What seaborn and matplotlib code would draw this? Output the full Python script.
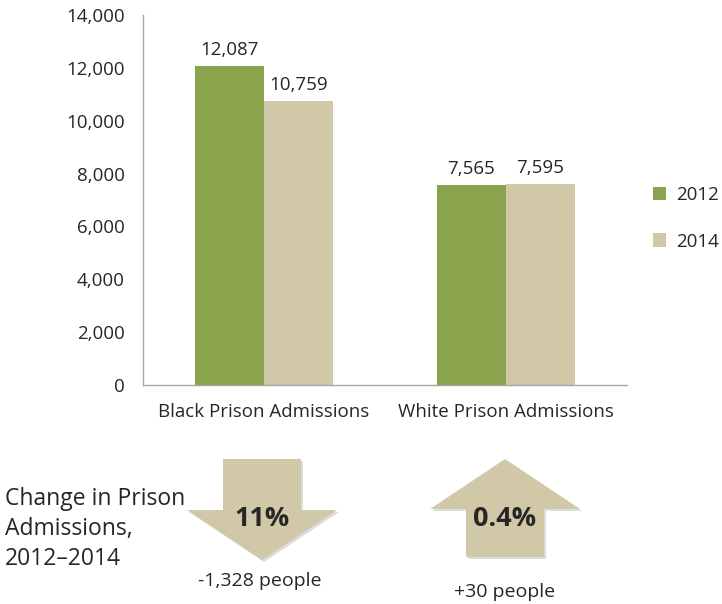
"""Prison admissions by race, 2012 vs 2014"""
import numpy as np
import pandas as pd
import matplotlib
matplotlib.use('Agg')
import matplotlib.pyplot as plt
from matplotlib.patches import Polygon
from matplotlib.ticker import FuncFormatter
import seaborn as sns

categories = ['Black Prison Admissions', 'White Prison Admissions']
years = ['2012', '2014']
admissions_2012 = [12087, 7565]
admissions_2014 = [10759, 7595]
pct_change = ['11%', '0.4%']
people_change = ['-1,328 people', '+30 people']

green = '#8AA34D'
tan = '#D0C8A6'

df = pd.DataFrame({
    'group': categories * 2,
    'year': [years[0]] * 2 + [years[1]] * 2,
    'admissions': admissions_2012 + admissions_2014,
})

sns.set_style('white')
plt.rcParams['font.family'] = ['Open Sans', 'DejaVu Sans']

fig = plt.figure(figsize=(7.22, 6.04), dpi=100)
ax = fig.add_axes([0.198, 0.3626, 0.67, 0.6126])

sns.barplot(data=df, x='group', y='admissions', hue='year',
            palette=[green, tan], saturation=1, width=0.57, linewidth=0, ax=ax)

for c in ax.containers:
    ax.bar_label(c, labels=[f'{v:,.0f}' for v in c.datavalues],
                 padding=5, fontsize=13.5)

ax.set_ylim(0, 14000)
ax.set_yticks(np.arange(0, 14001, 2000))
ax.yaxis.set_major_formatter(FuncFormatter(lambda v, p: f'{v:,.0f}'))
ax.set_xlabel('')
ax.set_ylabel('')
for s in ['top', 'right']:
    ax.spines[s].set_visible(False)
for s in ['left', 'bottom']:
    ax.spines[s].set_color('#A6A6A6')
    ax.spines[s].set_linewidth(1)
ax.tick_params(axis='y', length=5, color='#A6A6A6', labelsize=13.5, pad=8)
ax.tick_params(axis='x', length=0, labelsize=13.5, pad=13)

leg = ax.legend(loc='center left', bbox_to_anchor=(1.02, 0.45), frameon=False,
                fontsize=13.5, handlelength=0.7, handleheight=0.7,
                labelspacing=1.5, handletextpad=0.5)

# change arrows underneath (pixel coordinates)
ov = fig.add_axes([0, 0, 1, 1])
ov.set_xlim(0, 722)
ov.set_ylim(604, 0)
ov.axis('off')

def arrow(cx, top, bottom, up):
    hw, sw = 75, 39
    if up:
        base = top + 50
        pts = [(cx, top), (cx + hw, base), (cx + sw, base), (cx + sw, bottom),
               (cx - sw, bottom), (cx - sw, base), (cx - hw, base)]
    else:
        base = bottom - 50
        pts = [(cx - sw, top), (cx + sw, top), (cx + sw, base), (cx + hw, base),
               (cx, bottom), (cx - hw, base), (cx - sw, base)]
    shadow = Polygon([(x + 2, y + 2) for x, y in pts], closed=True,
                     facecolor='#BBBBBB', edgecolor='none', alpha=0.5)
    ov.add_patch(shadow)
    ov.add_patch(Polygon(pts, closed=True, facecolor=tan, edgecolor='none'))

arrow(262, 459, 560, up=False)
arrow(505, 459, 557, up=True)

ov.text(262, 519, pct_change[0], ha='center', va='center', fontsize=19.5, fontweight='bold')
ov.text(505, 519, pct_change[1], ha='center', va='center', fontsize=19.5, fontweight='bold')
ov.text(260, 581, people_change[0], ha='center', va='center', fontsize=14)
ov.text(505, 592, people_change[1], ha='center', va='center', fontsize=14)
ov.text(5, 529, 'Change in Prison\nAdmissions,\n2012–2014', ha='left', va='center',
        fontsize=16.5, linespacing=1.35)

fig.savefig('out.png', dpi=100)
